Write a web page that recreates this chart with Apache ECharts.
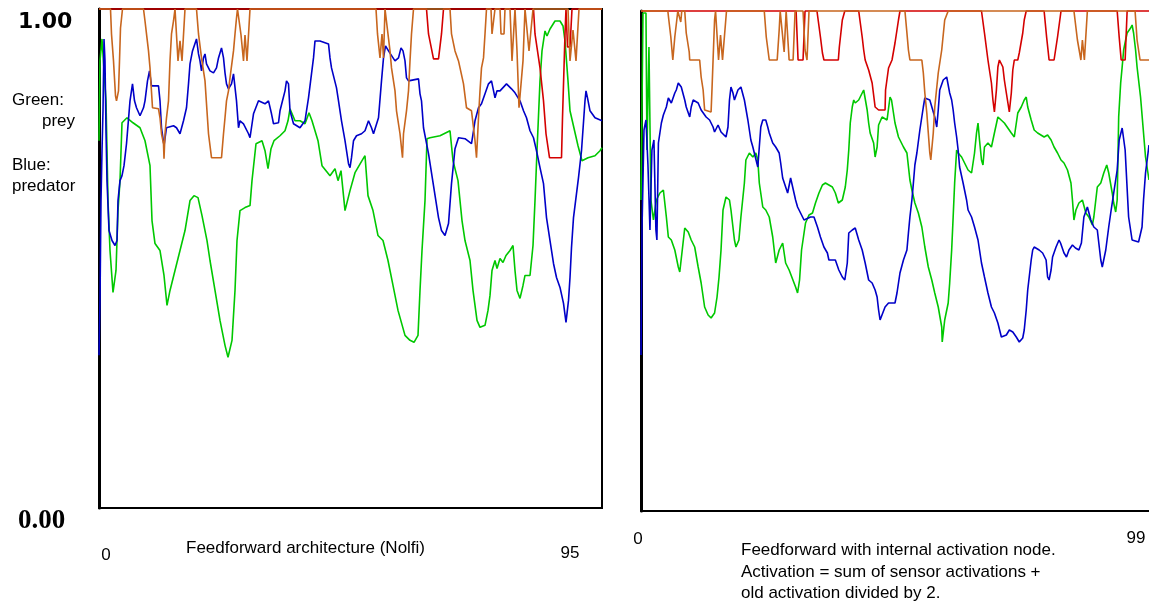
<!DOCTYPE html>
<html>
<head>
<meta charset="utf-8">
<script src="https://cdn.jsdelivr.net/npm/echarts@6/dist/echarts.min.js"></script>
<style>
html,body{margin:0;padding:0;background:#fff;}
#chart{width:1149px;height:605px;}
</style>
</head>
<body>
<div id="chart"></div>
<script>
// ---------- tick labels / texts ----------
const yTickLabels = ['0.00', '1.00'];
const xTickLabelsLeft = ['0', '95'];
const xTickLabelsRight = ['0', '99'];
const legendTexts = ['Green:', 'prey', 'Blue:', 'predator'];
const titleLeft = 'Feedforward architecture (Nolfi)';
const titleRight = 'Feedforward with internal activation node.\nActivation = sum of sensor activations +\nold activation divided by 2.';

// ---------- left panel (time step, activation) ----------
const leftGreen = [[0,.736],[.2,.896],[.6,.94],[1.0,.936],[1.4,.816],[1.8,.616],[2.2,.516],[2.8,.432],[3.4,.476],[3.8,.596],[4.2,.656],[4.6,.772],[5.6,.782],[6.8,.772],[8.2,.762],[9.2,.736],[10.2,.686],[10.6,.576],[11.2,.53],[12.2,.516],[13,.466],[13.6,.406],[14.2,.436],[15.2,.476],[16.2,.516],[17.2,.556],[18.2,.616],[19,.626],[19.8,.622],[20.6,.586],[21.6,.536],[22.2,.496],[23.2,.436],[24.2,.376],[25.2,.326],[25.8,.302],[26.6,.336],[27.2,.436],[27.6,.536],[28.2,.596],[29.2,.602],[30.2,.606],[30.6,.656],[31.4,.73],[32.6,.736],[33.2,.716],[33.8,.68],[34.4,.72],[35,.736],[36.2,.746],[37.2,.756],[37.8,.776],[38.2,.8],[39.2,.776],[40.2,.776],[41.2,.77],[42,.792],[42.6,.776],[43.8,.736],[44.6,.686],[46.2,.666],[47.2,.68],[47.8,.656],[48.4,.676],[49.2,.596],[50.2,.636],[51.2,.672],[52.6,.696],[53.2,.706],[53.8,.626],[54.8,.596],[55.8,.546],[56.8,.536],[57.8,.496],[58.8,.446],[59.8,.396],[61.2,.346],[62.2,.336],[63,.332],[63.8,.346],[64.2,.436],[64.6,.516],[65.2,.616],[65.6,.74],[66.2,.742],[68.2,.746],[70.2,.756],[70.8,.696],[71.8,.656],[72.6,.576],[73.2,.536],[74.2,.496],[74.8,.436],[75.6,.376],[76.2,.362],[77.2,.366],[77.8,.396],[78.2,.426],[78.6,.476],[79.2,.496],[79.6,.48],[80.2,.5],[80.8,.492],[81.4,.506],[82.2,.516],[82.8,.526],[83.2,.476],[83.6,.436],[84.2,.42],[84.8,.446],[85.2,.466],[86.2,.466],[86.8,.526],[87.2,.616],[87.6,.716],[88.2,.856],[88.6,.916],[89.2,.956],[89.6,.946],[90.2,.96],[91.2,.976],[92.2,.976],[92.8,.966],[93.2,.936],[93.8,.856],[94.2,.796],[95.8,.726],[96.6,.696],[97.8,.702],[99.2,.706],[100.2,.716],[100.6,.722]];

const leftBlue = [[0,.306],[.2,.416],[.4,.616],[.6,.716],[.8,.796],[1.0,.94],[1.2,.896],[1.4,.756],[1.6,.656],[2.0,.556],[2.6,.536],[3.2,.526],[3.6,.536],[3.8,.616],[4.2,.656],[4.6,.666],[5.0,.686],[5.5,.73],[6.2,.816],[6.7,.85],[7.1,.816],[7.5,.802],[8.2,.786],[8.9,.802],[9.2,.816],[9.7,.856],[10.1,.876],[10.5,.846],[11.9,.846],[12.2,.816],[12.5,.762],[13.0,.726],[13.5,.762],[14.9,.766],[15.5,.762],[16.2,.75],[16.9,.776],[17.5,.802],[17.9,.85],[18.2,.89],[18.7,.916],[19.5,.94],[19.9,.91],[20.2,.896],[20.5,.876],[20.9,.902],[21.2,.91],[21.5,.89],[22.2,.876],[22.9,.872],[23.5,.882],[23.9,.902],[24.5,.922],[24.9,.902],[25.2,.872],[25.5,.85],[25.9,.84],[26.5,.85],[26.9,.87],[27.5,.816],[27.9,.762],[28.2,.776],[28.9,.77],[29.9,.75],[30.2,.742],[30.9,.79],[31.9,.816],[33.2,.81],[33.9,.816],[34.5,.79],[34.9,.77],[35.9,.772],[36.2,.796],[36.7,.816],[37.2,.836],[37.5,.856],[37.9,.85],[38.2,.796],[38.9,.77],[40.2,.762],[41.2,.776],[41.5,.796],[41.9,.822],[42.5,.87],[42.9,.902],[43.2,.936],[44.2,.936],[45.9,.93],[46.2,.902],[46.5,.882],[47.5,.842],[47.9,.816],[48.5,.776],[49.2,.736],[49.9,.69],[50.2,.682],[50.5,.702],[50.9,.736],[51.5,.746],[52.5,.75],[53.2,.756],[53.9,.776],[54.5,.762],[54.9,.75],[55.9,.782],[56.5,.856],[56.9,.902],[57.3,.926],[57.9,.916],[59.2,.896],[59.9,.902],[60.4,.922],[60.8,.916],[61.2,.896],[61.5,.862],[61.9,.856],[63.9,.86],[64.2,.83],[64.5,.816],[64.9,.762],[65.9,.71],[66.9,.646],[67.9,.582],[68.5,.556],[69.2,.546],[69.9,.57],[70.2,.61],[70.5,.65],[71.2,.72],[71.9,.742],[73.2,.74],[74.5,.73],[74.9,.756],[75.2,.776],[75.9,.802],[76.5,.81],[77.2,.83],[77.9,.85],[78.5,.856],[79.2,.822],[79.6,.836],[80.2,.836],[81.5,.85],[82.5,.84],[83.2,.832],[84.2,.816],[84.9,.796],[85.5,.782],[86.2,.756],[86.9,.742],[87.5,.716],[88.2,.682],[88.9,.65],[89.5,.582],[90.2,.536],[90.9,.49],[91.5,.462],[92.2,.442],[92.9,.41],[93.4,.372],[93.9,.416],[94.2,.462],[94.5,.522],[94.9,.582],[95.5,.63],[95.9,.662],[96.5,.716],[97.2,.816],[97.4,.836],[97.7,.822],[98.2,.796],[99.2,.782],[100.6,.776]];

const leftOrange = [[0,1],[2.3,1],[2.5,.95],[2.9,.896],[3.3,.826],[3.5,.816],[3.9,.836],[4.1,.896],[4.3,.962],[4.7,1],[8.9,1],[9.2,.976],[9.5,.95],[9.9,.916],[10.2,.882],[10.4,.85],[10.7,.802],[11.9,.8],[12.2,.782],[12.5,.75],[12.9,.73],[13.0,.7],[13.2,.75],[13.5,.782],[13.9,.816],[14.2,.896],[14.5,.95],[14.9,.976],[15.2,1],[15.4,1],[15.8,.896],[16.2,.936],[16.6,.896],[17.2,1],[19.5,1],[19.9,.95],[20.5,.902],[21.2,.856],[21.5,.81],[21.9,.75],[22.5,.702],[24.5,.702],[24.9,.75],[25.2,.782],[25.5,.816],[25.9,.836],[26.2,.862],[26.9,.916],[27.2,.95],[27.5,.982],[27.7,1],[27.9,1],[28.4,.948],[28.9,.896],[29.2,.948],[29.6,.896],[30.2,1],[55.4,1],[55.7,.95],[56.2,.902],[56.6,.95],[56.9,.902],[57.2,1],[58.2,.916],[58.5,.882],[59.2,.836],[59.5,.796],[60.2,.75],[60.7,.702],[60.9,.75],[61.5,.796],[61.9,.836],[62.2,.896],[62.5,.95],[62.9,1],[70.2,1],[70.5,.95],[71.2,.916],[71.9,.896],[72.9,.85],[73.5,.802],[74.5,.796],[74.9,.762],[75.2,.736],[75.5,.702],[75.9,.782],[76.2,.836],[76.5,.882],[76.9,.902],[77.2,.95],[77.5,1],[78.4,1],[78.6,.95],[79,.95],[79.2,1],[80.2,1],[80.4,.95],[81,.95],[81.2,1],[82.2,1],[82.6,.896],[83,.896],[83.2,1],[83.6,.916],[84,.802],[84.4,.802],[84.8,.896],[85.2,1],[85.6,1],[86,.916],[86.4,.916],[86.8,1],[93.8,1],[94.2,.896],[94.8,.958],[95.4,.896],[96,1],[100.6,1]];

const leftRed = [[0,1],[65.5,1],[65.9,.95],[66.9,.9],[67.9,.9],[68.5,.95],[68.9,1],[86.9,1],[87.2,.95],[88.2,.882],[88.9,.816],[89.4,.75],[90.1,.702],[92.5,.702],[92.7,.782],[93,.882],[93.2,.95],[93.4,1],[93.5,1],[93.7,.924],[94.2,.924],[94.6,1],[100.6,1]];

// ---------- right panel ----------
const rightGreen = [[0,.622],[.4,.996],[1.0,.996],[1.2,.722],[1.6,.928],[2.0,.622],[2.5,.582],[3.1,.622],[3.8,.636],[4.5,.642],[4.8,.646],[5.1,.588],[5.5,.548],[6.1,.542],[6.8,.522],[7.5,.488],[7.8,.478],[8.3,.522],[8.8,.566],[9.5,.558],[10.1,.542],[10.8,.528],[11.5,.488],[12.1,.456],[12.8,.408],[13.5,.392],[14.1,.386],[14.8,.396],[15.3,.428],[15.7,.468],[16.1,.522],[16.5,.602],[17.1,.628],[17.8,.622],[18.1,.602],[18.8,.542],[19.1,.528],[19.7,.542],[20.1,.588],[20.8,.656],[21.1,.702],[21.8,.716],[22.5,.708],[23.1,.716],[23.5,.702],[23.8,.656],[24.5,.608],[25.1,.602],[25.8,.588],[26.5,.548],[27.1,.496],[27.8,.522],[28.5,.536],[29.1,.496],[29.8,.482],[31.1,.448],[31.5,.436],[31.9,.462],[32.3,.522],[32.8,.556],[33.1,.576],[33.8,.592],[34.5,.596],[35.1,.616],[35.8,.636],[36.5,.652],[37.1,.656],[38.5,.648],[39.1,.636],[39.7,.616],[40.5,.622],[41.1,.648],[41.5,.682],[41.8,.722],[42.1,.776],[42.5,.808],[42.8,.822],[43.1,.816],[43.8,.822],[44.5,.836],[44.8,.842],[45.5,.802],[45.8,.776],[46.1,.756],[46.8,.736],[47.1,.708],[47.5,.728],[47.8,.772],[48.5,.788],[49.5,.782],[50.1,.828],[50.4,.822],[51.1,.776],[51.8,.748],[52.8,.728],[53.5,.716],[54.1,.662],[54.5,.642],[55.1,.616],[55.8,.596],[56.5,.568],[57.1,.528],[57.8,.488],[58.5,.462],[59.1,.436],[59.8,.408],[60.5,.368],[60.6,.338],[61.1,.382],[61.8,.416],[62.1,.456],[62.5,.522],[62.8,.588],[63.1,.656],[63.5,.722],[63.8,.716],[64.5,.708],[65.1,.696],[65.8,.682],[66.5,.676],[67.1,.716],[67.5,.756],[67.8,.776],[68.1,.742],[68.5,.702],[68.8,.692],[69.1,.728],[69.8,.736],[70.5,.728],[71.1,.756],[71.8,.788],[73.1,.776],[74.5,.756],[75.1,.748],[75.8,.796],[76.5,.808],[77.1,.822],[77.5,.828],[77.8,.808],[78.5,.782],[79.1,.762],[79.8,.756],[81.1,.748],[81.8,.752],[82.5,.742],[83.1,.728],[83.8,.716],[84.5,.702],[85.1,.696],[85.8,.682],[86.5,.656],[86.8,.622],[87.1,.582],[87.5,.602],[88.1,.616],[88.8,.622],[89.5,.596],[90.1,.588],[90.8,.572],[91.1,.588],[91.8,.648],[92.5,.656],[93.1,.676],[93.7,.692],[94.1,.676],[94.8,.636],[95.1,.616],[95.5,.598],[95.8,.622],[96.1,.788],[96.5,.856],[96.8,.888],[97.1,.922],[97.5,.942],[97.8,.956],[98.5,.966],[98.8,.972],[99.1,.956],[99.5,.922],[99.8,.888],[100.5,.828],[101.1,.756],[101.5,.708],[102.2,.662]];

const rightBlue = [[0,.312],[.2,.562],[.6,.762],[1.0,.782],[1.4,.692],[1.8,.562],[2.2,.722],[2.6,.742],[3.0,.562],[3.2,.542],[3.5,.736],[3.8,.756],[4.1,.776],[4.5,.792],[5.1,.808],[5.5,.826],[6.1,.816],[6.8,.836],[7.1,.842],[7.5,.856],[7.8,.858],[8.1,.848],[8.8,.822],[9.1,.808],[9.8,.788],[10.1,.808],[10.5,.822],[11.5,.816],[12.1,.802],[13.1,.788],[13.8,.782],[14.5,.768],[14.8,.758],[15.5,.772],[16.1,.758],[16.5,.756],[17.1,.748],[17.5,.768],[17.8,.822],[18.1,.848],[18.5,.836],[18.8,.822],[19.5,.842],[20.1,.848],[20.8,.822],[21.5,.782],[22.1,.742],[22.5,.728],[22.8,.716],[23.5,.688],[23.8,.728],[24.1,.768],[24.5,.782],[25.1,.782],[25.5,.768],[25.8,.756],[26.5,.736],[27.1,.728],[27.8,.716],[28.1,.696],[28.5,.666],[29.5,.636],[30.1,.666],[31.1,.622],[31.5,.608],[32.1,.596],[32.8,.582],[34.1,.588],[34.8,.588],[35.5,.568],[36.1,.548],[36.8,.528],[37.5,.516],[37.8,.502],[39.1,.502],[39.8,.482],[40.5,.468],[41.0,.462],[41.5,.496],[41.8,.556],[42.5,.562],[43.1,.566],[43.8,.542],[44.5,.522],[45.1,.496],[45.8,.462],[46.5,.456],[47.1,.442],[47.5,.428],[47.8,.402],[48.1,.382],[49.1,.408],[49.8,.416],[51.1,.416],[51.5,.436],[51.8,.456],[52.1,.476],[52.8,.502],[53.5,.522],[53.8,.556],[54.1,.588],[54.5,.622],[54.8,.656],[55.1,.692],[55.5,.716],[56.1,.762],[56.8,.808],[57.1,.826],[57.5,.828],[58.1,.822],[59.1,.788],[59.5,.768],[59.8,.802],[60.1,.842],[60.8,.862],[61.5,.868],[62.1,.836],[62.5,.822],[62.8,.802],[63.1,.776],[63.5,.748],[63.8,.722],[64.1,.688],[64.8,.656],[65.5,.622],[65.8,.602],[66.5,.588],[67.1,.568],[67.8,.542],[68.5,.496],[69.1,.468],[69.8,.436],[70.5,.408],[71.1,.396],[71.8,.376],[72.5,.348],[72.8,.346],[73.5,.352],[74.1,.362],[74.8,.358],[75.5,.348],[76.1,.338],[76.8,.346],[77.1,.362],[77.5,.402],[77.8,.442],[78.5,.502],[78.8,.522],[79.1,.528],[80.1,.522],[80.8,.516],[81.5,.502],[81.8,.468],[82.1,.462],[82.5,.482],[82.8,.508],[83.5,.528],[84.1,.542],[84.4,.536],[85.1,.516],[85.6,.508],[86.1,.522],[86.8,.532],[87.4,.526],[88.1,.522],[88.6,.536],[89.1,.588],[89.8,.608],[90.5,.582],[91.1,.568],[91.8,.562],[92.5,.502],[92.8,.488],[93.5,.522],[94.1,.568],[94.5,.596],[95.1,.636],[95.8,.682],[96.2,.742],[96.8,.766],[97.4,.722],[98.1,.588],[98.8,.542],[100.1,.538],[100.8,.568],[101.1,.622],[101.5,.676],[102.2,.732]];

const rightOrange = [[0,1],[5.4,1],[5.6,.982],[6.0,.948],[6.4,.902],[6.8,.948],[7.2,.982],[7.4,1],[7.8,1],[8.0,.978],[8.2,1],[8.8,1],[9.1,.956],[9.7,.918],[9.8,.902],[11.8,.902],[12.1,.868],[12.5,.842],[12.8,.802],[14.1,.798],[14.3,.848],[14.5,.902],[14.8,.982],[15,1],[15.2,1],[15.6,.902],[16,.952],[16.4,.902],[17.2,1],[24.8,1],[25.2,.948],[25.8,.902],[27.4,.902],[27.8,.962],[28,1],[28.2,1],[28.8,.918],[29.2,1],[29.4,1],[29.8,.902],[30.6,.902],[31,1],[32.6,1],[33,.922],[33.4,.902],[33.8,1],[53.1,1],[53.5,.956],[53.8,.922],[54.1,.902],[56.5,.902],[56.8,.876],[57.1,.836],[57.5,.796],[57.8,.756],[58.1,.716],[58.3,.702],[58.8,.756],[59.1,.808],[59.8,.876],[60.5,.922],[61.1,.982],[61.8,1],[87.1,1],[87.8,.942],[88.5,.902],[88.8,.942],[89.2,.902],[89.8,1],[99.4,1],[99.8,.942],[100.4,.902],[102.2,.902]];

const rightRed = [[0,1],[31.2,1],[31.6,.902],[32.6,.902],[33,1],[35.4,1],[36.1,.948],[36.5,.916],[36.8,.902],[39.7,.902],[39.9,.928],[40.5,.982],[41,1],[43.8,1],[44.5,.948],[44.8,.922],[45.1,.902],[45.8,.882],[46.5,.856],[47.1,.808],[47.8,.802],[49.1,.802],[49.2,.842],[49.8,.886],[50.5,.902],[51.1,.936],[51.8,.982],[52.1,1],[68.5,1],[69.1,.956],[69.8,.902],[70.1,.882],[70.5,.856],[70.8,.822],[71.1,.798],[71.5,.842],[71.8,.888],[72.1,.902],[72.5,.902],[72.8,.888],[73.1,.862],[73.5,.836],[74.1,.798],[74.5,.836],[74.8,.882],[75.1,.902],[75.8,.902],[76.1,.916],[76.8,.956],[77.1,.982],[77.5,1],[81.1,1],[81.6,.948],[82.1,.902],[83.1,.902],[83.8,.948],[84.5,1],[95.8,1],[96.2,.948],[96.6,.902],[97.4,.902],[97.8,1],[102.2,1]];

// ---------- styling ----------
const C = { green:'#00c800', blue:'#0000c8', orange:'#c8661e', red:'#d40000' };
const SANS = '"Liberation Sans", Arial, sans-serif';

function line(name, data, color, idx) {
  return {
    name, type:'line', data, xAxisIndex: idx, yAxisIndex: idx,
    showSymbol:false, symbol:'none', clip:false, animation:false,
    lineStyle:{ color, width:1.6 }, emphasis:{ disabled:true }
  };
}

const chart = echarts.init(document.getElementById('chart'), null, {renderer:'canvas'});

function txt(text, x, y, extra) {
  return {type:'text', x, y, style:Object.assign({text, font:'17px ' + SANS, fill:'#000', verticalAlign:'middle'}, extra || {})};
}

const graphics = [
  txt(legendTexts[0], 12, 100),
  txt(legendTexts[1], 42, 121),
  txt(legendTexts[2], 12, 165),
  txt(legendTexts[3], 12, 186),
  txt(xTickLabelsLeft[0], 106, 555, {align:'center'}),
  txt(xTickLabelsLeft[1], 570, 553, {align:'center'}),
  txt(xTickLabelsRight[0], 638, 539, {align:'center'}),
  txt(xTickLabelsRight[1], 1136, 538, {align:'center'}),
  txt(titleLeft, 186, 548),
  txt(titleRight, 741, 540, {verticalAlign:'top', lineHeight:21.5})
];

const option = {
  backgroundColor:'#fff',
  animation:false,
  grid:[
    {left:99, top:9, width:503, height:499, show:true, borderColor:'#000', borderWidth:2, backgroundColor:'transparent'},
    {left:641, top:11, width:511, height:500, show:false}
  ],
  xAxis:[
    {gridIndex:0, type:'value', min:0, max:100.6, axisLine:{show:true, onZero:false, lineStyle:{color:'#000', width:2}}, axisTick:{show:false}, axisLabel:{show:false}, splitLine:{show:false}},
    {gridIndex:1, type:'value', min:0, max:102.2, axisLine:{show:true, onZero:false, lineStyle:{color:'#000', width:2}}, axisTick:{show:false}, axisLabel:{show:false}, splitLine:{show:false}}
  ],
  yAxis:[
    {gridIndex:0, type:'value', min:0, max:1, interval:1,
     axisLine:{show:true, onZero:false, lineStyle:{color:'#000', width:3}}, axisTick:{show:false}, splitLine:{show:false},
     axisLabel:{show:true, margin:81, align:'left', verticalAlign:'middle', padding:[27,0,0,0],
       formatter:function(v){ return v === 1 ? '{s|' + yTickLabels[1] + '}' : '{t|' + yTickLabels[0] + '}'; },
       rich:{
         s:{fontFamily:'DejaVu Sans', fontWeight:'bold', fontSize:22, color:'#000'},
         t:{fontFamily:'Liberation Serif', fontWeight:'bold', fontSize:27, color:'#000'}
       }}},
    {gridIndex:1, type:'value', min:0, max:1, interval:1,
     axisLine:{show:true, onZero:false, lineStyle:{color:'#000', width:3}}, axisTick:{show:false}, splitLine:{show:false}, axisLabel:{show:false}}
  ],
  graphic: graphics,
  series:[
    line('prey (left)', leftGreen, C.green, 0),
    line('predator (left)', leftBlue, C.blue, 0),
    line('red (left)', leftRed, C.red, 0),
    line('orange (left)', leftOrange, C.orange, 0),
    line('prey (right)', rightGreen, C.green, 1),
    line('predator (right)', rightBlue, C.blue, 1),
    line('red (right)', rightRed, C.red, 1),
    line('orange (right)', rightOrange, C.orange, 1)
  ]
};
chart.setOption(option);
</script>
</body>
</html>
